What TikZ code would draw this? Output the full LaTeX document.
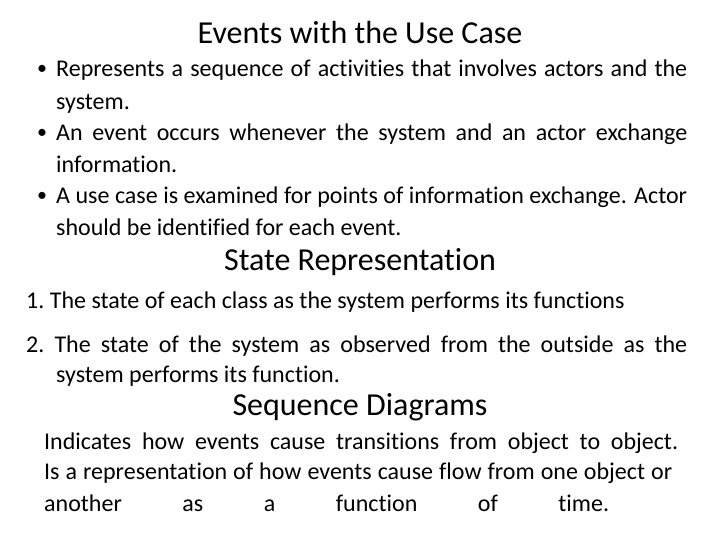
\documentclass[tikz,border=0pt]{standalone}
\usepackage{fontspec}
\setmainfont[Ligatures={NoCommon}]{Carlito}
\begin{document}
\begin{tikzpicture}[x=1pt,y=1pt,
  body/.style={anchor=west,inner sep=0pt,font=\fontsize{24}{28}\selectfont},
  head/.style={inner sep=0pt,font=\fontsize{32}{36}\selectfont},
  bul/.style={inner sep=0pt,font=\fontsize{20}{24}\selectfont}]
\useasboundingbox (0,0) rectangle (720,-540);
\node[head] (t1) at (360,-33) {Events with the Use Case};
\node[bul] (b1) at (42,-70) {•};
\node[body] (l1) at (56,-70) {\makebox[631pt][s]{Represents a sequence of activities that involves actors and the}};
\node[body] (l2) at (56,-104) {system.};
\node[bul] (b2) at (42,-134) {•};
\node[body] (l3) at (56,-134) {\makebox[631pt][s]{An event occurs whenever the system and an actor exchange}};
\node[body] (l4) at (56,-164) {information.};
\node[bul] (b3) at (42,-197) {•};
\node[body] (l5) at (56,-197) {\makebox[631pt][s]{A use case is examined for points of information exchange. Actor}};
\node[body] (l6) at (56,-227) {should be identified for each event.};
\node[head] (t2) at (360,-262) {State Representation};
\node[body] (n1) at (26,-302) {1.\ The state of each class as the system performs its functions};
\node[body] (n2) at (26,-346) {\makebox[661pt][s]{2.\ The state of the system as observed from the outside as the}};
\node[body] (n3) at (56,-376) {system performs its function.};
\node[head] (t3) at (360,-407) {Sequence Diagrams};
\node[body] (s1) at (44,-443) {\makebox[634pt][s]{Indicates how events cause transitions from object to object.}};
\node[body] (s2) at (44,-473) {\makebox[628pt][s]{Is a representation of how events cause flow from one object or}};
\node[body] (s3) at (44,-503) {\makebox[565pt][s]{another as a function of time.}};
\end{tikzpicture}
\end{document}
